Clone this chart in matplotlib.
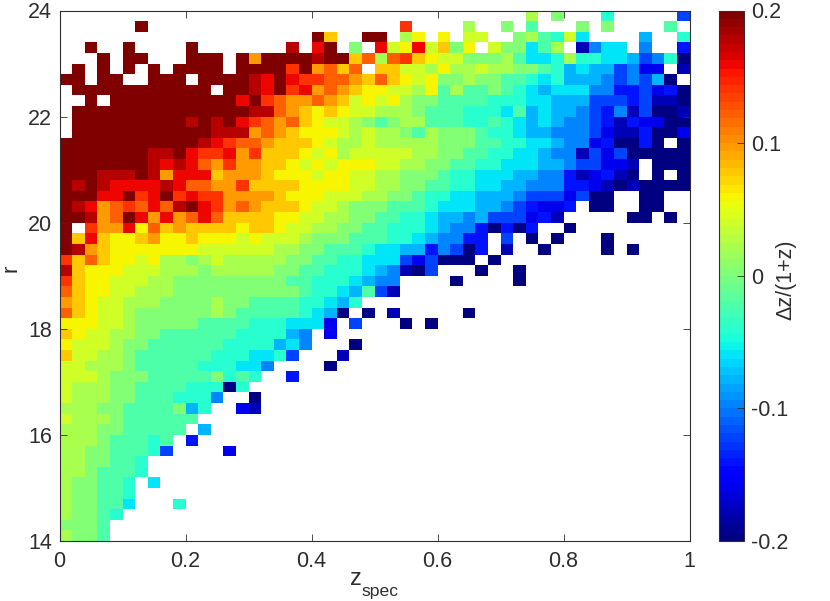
import numpy as np
import matplotlib
matplotlib.use("Agg")
import matplotlib.pyplot as plt

plt.rcParams['font.family'] = ['Liberation Sans', 'DejaVu Sans']

# Each character is one cell's mean dz/(1+z): a=-0.20, b=-0.18, ... k=0, ... u=+0.20; '.' = empty.
# Rows run from r=24 (top) to r=14 (bottom); columns from z=0 to z=1. Spaces only aid reading.
CELL_ROWS = [
    ".......... .......... .......... .......l.k ...i.....e",
    "......u... .......... .......r.. ..l..k.j.. .k.k....j.",
    ".......... .......... uo..uu.ln. n.mm..klji mh....g..i",
    "..u..u.... u.......t. su.k.smnsm okn.mkkhjl .bfhh.f..d",
    "...u.uu... uuu.upuuuu tuuoqlqron mmkkkljhhi liihhgefia",
    ".u.u.u.u.u uuu.uuuuru pqoq.oomml nllmllkkji ghggefcc.b",
    "uu.uu..uuu .uuuutsusr rqqpoqonmn kklkkjjihi gggfefega.",
    ".uuuuuuuuu uu.uutsurs pqponnmmln jljjkjihgh hhffddecda",
    "..u.uuuuuu uuuusurqpp qpomnmnlkk jjjjiiihhg ggeeedebba",
    ".uuuuuuuuu uuuuuttqpo nonmmlllkj jjiiihjghg gfedfbeaab",
    ".uuuuuuuuu tutusrqpqo nmmlkjkllj jjiijihghg ffedbdccaa",
    ".uuuuuuuuu uutttpqpon nnmlmllkjl kkkjiihggf ffecbbdaac",
    "uuuuuuuuuu utsrqqpooo nmllmlllll kkkjjiihhg ffcdaada.a",
    "uuuuuuuttu srrsprooon mnlmmmmmll kkjjiihhgf fbeceaaaaa",
    "uuuuuuutst sqprppoonm nmnnnmmllk kjjiihhhgg feeccb.aaa",
    "uuutttutps ssoppponnn mnnmmllkkk jiihhhggff dbcdba.a.a",
    "ututssssts qqpproooon nnnmmllkkj jiihhggfff ddcbabaaaa",
    "uuussursur srrppppoNn nmmmllkkji ihhgggfeee ceaa..aa..".replace("N", "n"),
    "utspqrqsqt usrpqpooon mmlkkkjjji hhhggfedcc d.aa..aa..",
    "uutpquspsp qsqoooonnm mllkkjjiih ggfgeeecdb .....aa.a.",
    "u.rppsnqop oooonoonmm llkkjjiiih gffdadad.. a.........",
    "uosonnopnn onnnmnmmml kkkjjjiihg ffdd.e.a.a ...a......",
    "utponnnnnn nmmmmmmllk kjjjihhggd fead.b..a. ...a.a....",
    "roqonnmnll klmlllllkk jjiihhhece aaa.a..... ..........",
    "tonnnmmmll lklllllkkj jiiihgfbae ...a..a... ..........",
    "ronnmmmllk kkkkkkkkjj iiihgff... .a....a... ..........",
    "qonnmmlllk kkkkkkkkkj iihgjeb... .......... ..........",
    "ponmmlllkk kklkkjjjji ihgi...... .......... ..........",
    "qonmmlkkkk kklkjjjjji hga.a.b... ..a....... ..........",
    "nnnmmlkkkk kjjjjiiihh hc.e...a.a .......... ..........",
    "onmmllkkjj jjjjiiiigf .c........ .......... ..........",
    "nmmmlkkjjj jjjiiiighf ...a...... .......... ..........",
    "ommllkjjjj jjiiihhie. ..b....... .......... ..........",
    "mmlllkjjjj jiiihhf... .a........ .......... ..........",
    "mmmlkkkjjj jjkiji..d. .......... .......... ..........",
    "mlllkkjjjj iiiai..... .......... .......... ..........",
    "mlllkkjjji iif..a.... .......... .......... ..........",
    "lllkkjjjjk gi..cb.... .......... .......... ..........",
    "mlllkjjjjj j......... .......... .......... ..........",
    "lllkkjjjjj .g........ .......... .......... ..........",
    "lllkjjjij. d......... .......... .......... ..........",
    "llkkjjjie. ...c...... .......... .......... ..........",
    "llkkjji... .......... .......... .......... ..........",
    "llkjjji... .......... .......... .......... ..........",
    "lkkjji.h.. .......... .......... .......... ..........",
    "lkkjji.... .......... .......... .......... ..........",
    "lkkjjh...i .......... .......... .......... ..........",
    "lkkji..... .......... .......... .......... ..........",
    "kkkj...... .......... .......... .......... ..........",
    "lkkj...... .......... .......... .......... ..........",
]
X_TICKS = [0, 0.2, 0.4, 0.6, 0.8, 1]
X_TICK_LABELS = ["0", "0.2", "0.4", "0.6", "0.8", "1"]
Y_TICKS = [14, 16, 18, 20, 22, 24]
CBAR_TICKS = [-0.2, -0.1, 0, 0.1, 0.2]
CBAR_TICK_LABELS = ["-0.2", "-0.1", "0", "0.1", "0.2"]


def decode(row):
    row = row.replace(" ", "")
    return [np.nan if c == "." else (ord(c) - ord("a")) * 0.02 - 0.2 for c in row]


Z = np.array([decode(r) for r in CELL_ROWS])[::-1]
xe = np.linspace(0, 1, Z.shape[1] + 1)
ye = np.linspace(14, 24, Z.shape[0] + 1)

W, H = 830, 601
fig = plt.figure(figsize=(W / 100, H / 100), dpi=100)
ink = "#2e2e2e"


def box(l, r, t, b):
    return [l / W, 1 - b / H, (r - l) / W, (b - t) / H]


ax = fig.add_axes(box(59.5, 689.5, 10.5, 541.0))
cmap = plt.get_cmap("jet", 64).copy()
cmap.set_bad("white")
mesh = ax.pcolormesh(xe, ye, np.ma.masked_invalid(Z), cmap=cmap, vmin=-0.2, vmax=0.2,
                     antialiased=False, linewidth=0, rasterized=True)
ax.set_xlim(0, 1)
ax.set_ylim(14, 24)
ax.set_xticks(X_TICKS, X_TICK_LABELS)
ax.set_yticks(Y_TICKS)
ax.tick_params(direction="in", top=True, right=True, length=5, width=0.6,
               labelsize=15.5, colors=ink)
ax.tick_params(axis="x", pad=7)
ax.tick_params(axis="y", pad=5.5)
for s in ax.spines.values():
    s.set_linewidth(0.8)
    s.set_color(ink)
fig.text(350 / W, 1 - 585 / H, "z", fontsize=17, color=ink, ha="left", va="baseline")
fig.text(361 / W, 1 - 596 / H, "spec", fontsize=12.6, color=ink, ha="left", va="baseline")
fig.text(11 / W, 1 - 268 / H, "r", fontsize=16, color=ink, rotation=90,
         ha="center", va="center")

cax = fig.add_axes(box(719, 743.5, 10.5, 541.0))
cb = fig.colorbar(mesh, cax=cax)
cb.set_ticks(CBAR_TICKS, labels=CBAR_TICK_LABELS)
cax.tick_params(direction="in", right=True, left=False, length=5, width=0.6,
                labelsize=15.5, colors=ink, pad=5.5)
cb.outline.set_linewidth(0.8)
cb.outline.set_edgecolor(ink)
fig.text(786 / W, 1 - 280 / H, "\u0394z/(1+z)", fontsize=15.5, color=ink, rotation=90,
         ha="center", va="center")

fig.savefig("out.png", dpi=100)
